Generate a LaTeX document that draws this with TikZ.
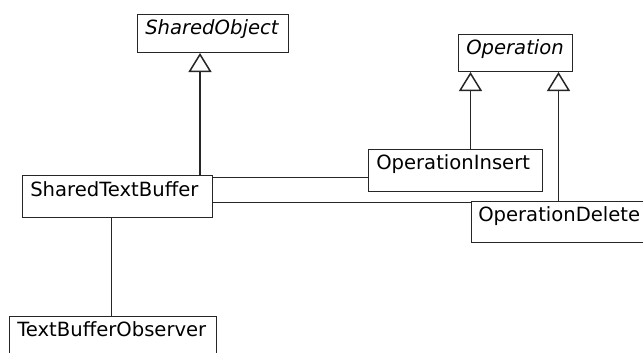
\documentclass[tikz,border=0pt]{standalone}
\usepackage{fontspec}
\setmainfont{DejaVu Sans}
\usetikzlibrary{arrows.meta}

\tikzset{
  umlbox/.style n args={3}{draw=black!85, line width=1.5bp, anchor=north west,
    inner xsep=8bp, inner ysep=0pt, align=left,
    text width=#1, text height=#2, text depth=#3,
    font=\fontsize{19.6bp}{22bp}\selectfont},
  abstract/.style={font=\fontsize{19.6bp}{22bp}\selectfont\itshape},
  assoc/.style={draw=black!85, line width=1.5bp},
  inherit/.style={draw=black!85, line width=1.5bp,
    -{Triangle[open, length=19bp, width=23bp, fill=white]}}
}

\begin{document}
\begin{tikzpicture}[x=1bp, y=-1bp]
  \useasboundingbox (0,0) rectangle (643,352);
  \fill[white] (0,0) rectangle (643,352);
  \clip (0,0) rectangle (643,352);

  % classes
  \node[umlbox={135bp}{20bp}{18bp}, abstract] (so)  at (136.5,13.5)  {SharedObject};
  \node[umlbox={98bp}{20bp}{17bp}, abstract]  (op)  at (457.5,33.5)  {Operation};
  \node[umlbox={158bp}{20bp}{22bp}]           (oi)  at (367.5,148.5) {OperationInsert};
  \node[umlbox={166bp}{20bp}{21bp}, inner xsep=7bp] (od) at (470.5,200.5) {OperationDelete};
  \node[umlbox={174bp}{21bp}{21bp}]           (stb) at (21.5,174.5)  {SharedTextBuffer};
  \node[umlbox={191bp}{20bp}{25bp}]           (tbo) at (8.5,315.5)   {TextBufferObserver};

  % generalisations
  \draw[inherit] ([xshift=-13bp]stb.north east) -- ([xshift=-13bp]stb.north east |- so.south);
  \draw[inherit] ([xshift=103bp]oi.north west) -- ([xshift=103bp]oi.north west |- op.south);
  \draw[inherit] ([xshift=88bp]od.north west) -- ([xshift=88bp]od.north west |- op.south);

  % associations
  \draw[assoc] ([yshift=-3bp]stb.north east) -- ([yshift=-3bp]stb.north east -| oi.west);
  \draw[assoc] ([yshift=-28bp]stb.north east) -- ([yshift=-28bp]stb.north east -| od.west);
  \draw[assoc] ([xshift=90bp]stb.south west) -- ([xshift=90bp]stb.south west |- tbo.north);
\end{tikzpicture}
\end{document}
